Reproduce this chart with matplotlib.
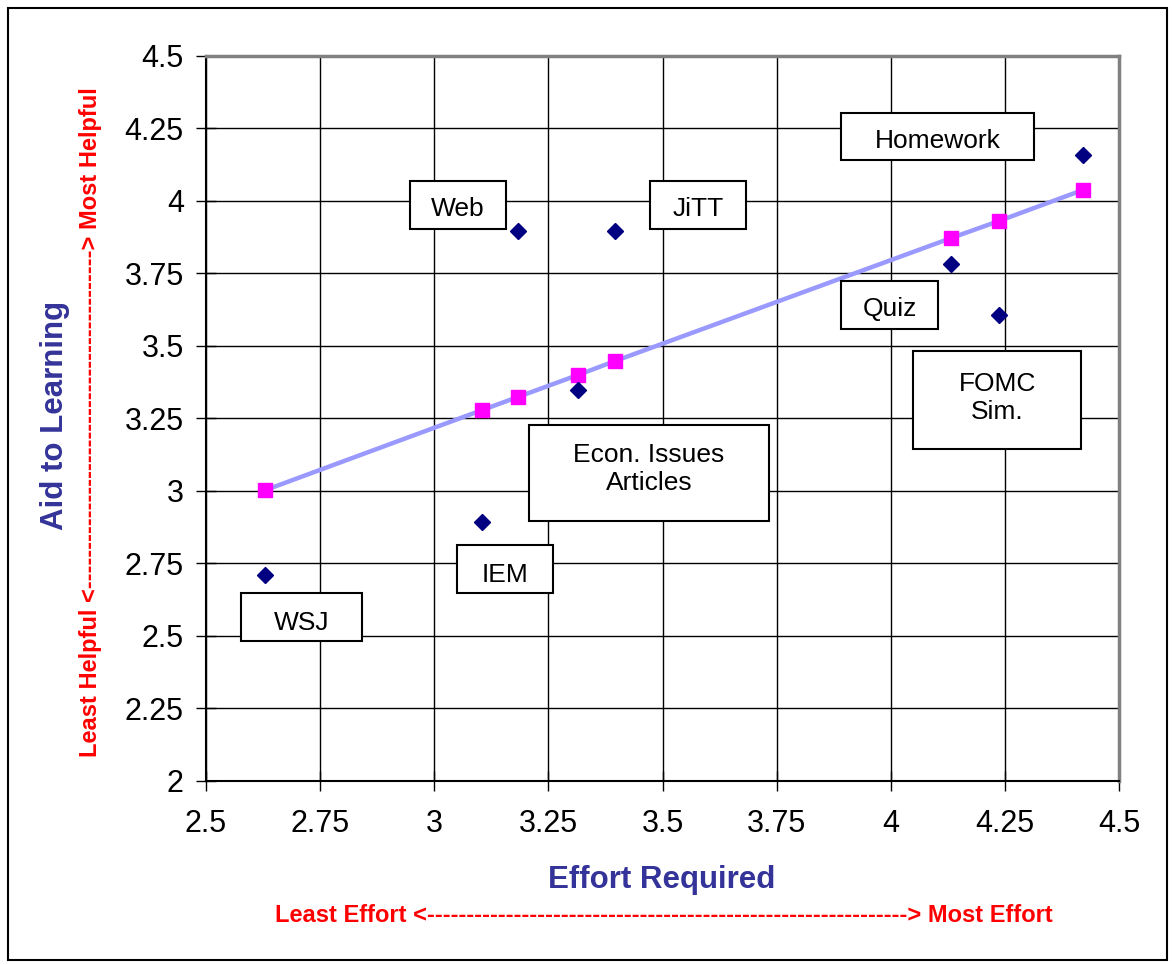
import matplotlib
matplotlib.use("Agg")
import matplotlib.pyplot as plt
from matplotlib.patches import Rectangle

plt.rcParams['font.family'] = ['Liberation Sans', 'DejaVu Sans']

# data
activities = ["WSJ", "IEM", "Web", "Econ. Issues\nArticles", "JiTT", "Quiz", "FOMC\nSim.", "Homework"]
effort = [2.63, 3.105, 3.183, 3.315, 3.396, 4.132, 4.237, 4.421]
aid = [2.71, 2.893, 3.897, 3.348, 3.897, 3.783, 3.607, 4.159]
fitted = [3.003, 3.279, 3.324, 3.400, 3.448, 3.872, 3.931, 4.038]

# label boxes (x0, x1, y_bottom, y_top) in data units, text centre
boxes = {
    "Homework": (3.891, 4.314, 4.141, 4.303, 4.208),
    "Web": (2.947, 3.157, 3.903, 4.069, 3.972),
    "JiTT": (3.473, 3.683, 3.903, 4.069, 3.972),
    "Quiz": (3.891, 4.104, 3.559, 3.724, 3.627),
    "FOMC\nSim.": (4.049, 4.417, 3.145, 3.483, 3.322),
    "Econ. Issues\nArticles": (3.208, 3.733, 2.897, 3.228, 3.076),
    "IEM": (3.050, 3.260, 2.648, 2.814, 2.711),
    "WSJ": (2.577, 2.842, 2.483, 2.648, 2.546),
}

fig = plt.figure(figsize=(11.73, 9.65), dpi=100)
ax = fig.add_axes([0.1756, 0.1907, 0.7784, 0.7513])

ax.plot(effort, fitted, color="#9999FF", lw=3.2, zorder=3)
ax.plot(effort, fitted, "s", color="#FF00FF", ms=10, zorder=4)
ax.plot(effort, aid, "D", color="#000080", ms=8, zorder=4)

for name, (x0, x1, y0, y1, yc) in boxes.items():
    ax.add_patch(Rectangle((x0, y0), x1 - x0, y1 - y0, facecolor="white",
                           edgecolor="black", lw=1.5, zorder=5))
    ax.text((x0 + x1) / 2, yc, name, ha="center", va="center", fontsize=19,
            linespacing=1.22, zorder=6)

ax.set_xlim(2.5, 4.5)
ax.set_ylim(2, 4.5)
ticks_x = [2.5, 2.75, 3, 3.25, 3.5, 3.75, 4, 4.25, 4.5]
ticks_y = [2, 2.25, 2.5, 2.75, 3, 3.25, 3.5, 3.75, 4, 4.25, 4.5]
ax.set_xticks(ticks_x)
ax.set_xticklabels(["2.5", "2.75", "3", "3.25", "3.5", "3.75", "4", "4.25", "4.5"])
ax.set_yticks(ticks_y)
ax.set_yticklabels(["2", "2.25", "2.5", "2.75", "3", "3.25", "3.5", "3.75", "4", "4.25", "4.5"])
ax.tick_params(direction="inout", length=14, width=1, labelsize=22)
ax.tick_params(axis="x", pad=13)
ax.tick_params(axis="y", pad=9)
ax.grid(True, color="black", lw=1)
ax.set_axisbelow(True)
for s in ["top", "right"]:
    ax.spines[s].set_color("#808080")
    ax.spines[s].set_linewidth(2.5)
for s in ["left", "bottom"]:
    ax.spines[s].set_linewidth(1.5)

fig.text(0.5644, 0.088, "Effort Required", ha="center", va="center",
         fontsize=22.5, fontweight="bold", color="#333399")
fig.text(0.047, 0.569, "Aid to Learning", ha="center", va="center", rotation=90,
         fontsize=22.5, fontweight="bold", color="#333399")

fig.text(0.5657, 0.0508, "Least Effort <" + "-" * 61 + "> Most Effort",
         ha="center", va="center", fontsize=17, fontweight="bold", color="red")
fig.text(0.077, 0.5627, "Least Helpful <" + "-" * 43 + "> Most Helpful",
         ha="center", va="center", rotation=90, fontsize=17, fontweight="bold", color="red")

fig.patches.append(Rectangle((0.0068, 0.0052), 0.9881, 0.9865, transform=fig.transFigure,
                             fill=False, edgecolor="black", lw=1.5))

fig.savefig("out.png", dpi=100)
